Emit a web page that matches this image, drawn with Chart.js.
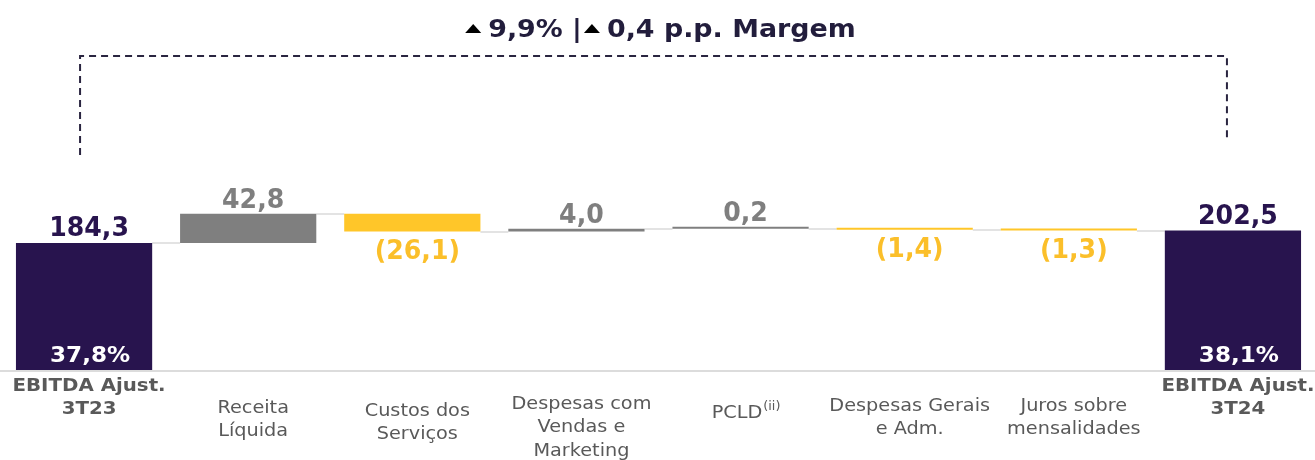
<!DOCTYPE html>
<html>
<head>
<meta charset="utf-8">
<script src="https://cdn.jsdelivr.net/npm/chart.js@4"></script>
<style>
  html, body { margin: 0; padding: 0; background: #fff; overflow: hidden; }
  canvas { display: block; }
</style>
</head>
<body>
<canvas id="chart" width="1315" height="460"></canvas>
<script>
// waterfall: first and last are totals, the rest are changes
const categories = [
  ['EBITDA Ajust.', '3T23'],
  ['Receita', 'Líquida'],
  ['Custos dos', 'Serviços'],
  ['Despesas com', 'Vendas e', 'Marketing'],
  ['PCLD'],
  ['Despesas Gerais', 'e Adm.'],
  ['Juros sobre', 'mensalidades'],
  ['EBITDA Ajust.', '3T24']
];
const categorySup = ['', '', '', '', '(ii)', '', '', ''];
const values = [184.3, 42.8, -26.1, 4.0, 0.2, -1.4, -1.3, 202.5];
const isTotal = [true, false, false, false, false, false, false, true];
const margins = [37.8, null, null, null, null, null, null, 38.1];
const growthPct = 9.9;
const marginPP = 0.4;

const DARK = '#28144e';
const GREY = '#7f7f7f';
const YELLOW = '#ffc629';
const YELLOW_TXT = '#fbbf2a';
const LABEL = '#595959';
const FONT = '"DejaVu Sans", Verdana, sans-serif';

const fmt = v => Math.abs(v).toFixed(1).replace('.', ',');

// floating bar ranges built from the values
let running = 0;
const ranges = values.map((v, i) => {
  if (isTotal[i]) { running = v; return [0, v]; }
  const r = [running, running + v];
  running += v;
  return r;
});
const barColors = values.map((v, i) => isTotal[i] ? DARK : (v >= 0 ? GREY : YELLOW));

// vertical middle of the first line of each category label
const labelY = [386, 408, 411, 404, 413, 406, 406, 386];
const TXT_SHIFT = 5; // labels sit a little right of the bar centre in the original

// the source font runs wider than DejaVu, so stretch text horizontally
function drawText(ctx, text, x, y, sx) {
  ctx.save();
  ctx.translate(x, y);
  ctx.scale(sx, 1);
  ctx.fillText(text, 0, 0);
  ctx.restore();
}

const waterfallExtras = {
  id: 'waterfallExtras',
  beforeDatasetsDraw(chart) {
    const { ctx, chartArea, scales: { y } } = chart;
    const bars = chart.getDatasetMeta(0).data;
    ctx.save();
    // baseline
    ctx.strokeStyle = '#dcdcdc';
    ctx.lineWidth = 2;
    ctx.beginPath();
    ctx.moveTo(0, y.getPixelForValue(0) + 1);
    ctx.lineTo(chart.width, y.getPixelForValue(0) + 1);
    ctx.stroke();
    // connectors
    ctx.strokeStyle = '#e3e3e3';
    for (let i = 0; i < bars.length - 1; i++) {
      const level = ranges[i][1];
      const py = Math.round(y.getPixelForValue(level));
      ctx.beginPath();
      ctx.moveTo(bars[i].x + bars[i].width / 2, py);
      ctx.lineTo(bars[i + 1].x - bars[i + 1].width / 2, py);
      ctx.stroke();
    }
    ctx.restore();
  },
  afterDatasetsDraw(chart) {
    const { ctx } = chart;
    const bars = chart.getDatasetMeta(0).data;
    ctx.save();
    ctx.textAlign = 'center';
    ctx.textBaseline = 'alphabetic';

    // value labels
    bars.forEach((bar, i) => {
      const v = values[i];
      const top = Math.min(bar.y, bar.base);
      const bottom = Math.max(bar.y, bar.base);
      const cx = bar.x + TXT_SHIFT;
      ctx.font = 'bold 26px ' + FONT;
      if (isTotal[i]) {
        ctx.fillStyle = DARK;
        drawText(ctx, fmt(v), cx, top - 7, 0.97);
      } else if (v >= 0) {
        ctx.fillStyle = GREY;
        drawText(ctx, fmt(v), cx, top - 6, 0.97);
      } else {
        ctx.fillStyle = YELLOW_TXT;
        drawText(ctx, '(' + fmt(v) + ')', cx, bottom + 27, 0.97);
      }
      if (margins[i] != null) {
        ctx.font = 'bold 21px ' + FONT;
        ctx.fillStyle = '#ffffff';
        drawText(ctx, fmt(margins[i]) + '%', bar.x + 6, bottom - 8, 1.1);
      }
    });

    // category labels
    bars.forEach((bar, i) => {
      const cx = bar.x + TXT_SHIFT;
      const sx = isTotal[i] ? 1.1 : 1.07;
      ctx.font = (isTotal[i] ? 'bold ' : '') + '18px ' + FONT;
      ctx.fillStyle = LABEL;
      ctx.textBaseline = 'middle';
      const lines = categories[i];
      if (categorySup[i]) {
        const w1 = ctx.measureText(lines[0]).width * sx;
        ctx.font = '12px ' + FONT;
        const w2 = ctx.measureText(categorySup[i]).width * sx;
        const x0 = cx - (w1 + w2) / 2;
        ctx.textAlign = 'left';
        drawText(ctx, categorySup[i], x0 + w1 + 1, labelY[i] - 6, sx);
        ctx.font = '18px ' + FONT;
        drawText(ctx, lines[0], x0, labelY[i], sx);
        ctx.textAlign = 'center';
      } else {
        lines.forEach((t, k) => drawText(ctx, t, cx, labelY[i] + k * 23.5, sx));
      }
    });

    // bracket
    const xl = bars[0].x - 4;
    const xr = bars[bars.length - 1].x - 6;
    ctx.strokeStyle = '#2a2540';
    ctx.lineWidth = 2;
    ctx.setLineDash([7, 5]);
    ctx.beginPath();
    ctx.moveTo(xl, 155);
    ctx.lineTo(xl, 56);
    ctx.lineTo(xr, 56);
    ctx.lineTo(xr, 138);
    ctx.stroke();
    ctx.setLineDash([]);

    // headline
    const tri = 16, gap = 7, hsx = 1.12;
    const part1 = fmt(growthPct) + '% |';
    const part2 = fmt(marginPP) + ' p.p. Margem';
    ctx.font = 'bold 24px ' + FONT;
    const w1 = ctx.measureText(part1).width * hsx;
    const w2 = ctx.measureText(part2).width * hsx;
    const total = tri + gap + w1 + 2 + tri + gap + w2;
    let x = (bars[0].x + bars[bars.length - 1].x) / 2 + 2 - total / 2;
    const base = 37;
    const drawTri = (tx) => {
      ctx.fillStyle = '#000';
      ctx.beginPath();
      ctx.moveTo(tx, base - 4);
      ctx.lineTo(tx + tri, base - 4);
      ctx.lineTo(tx + tri / 2, base - 13);
      ctx.closePath();
      ctx.fill();
    };
    ctx.textAlign = 'left';
    ctx.textBaseline = 'alphabetic';
    drawTri(x); x += tri + gap;
    ctx.fillStyle = '#221d3c';
    drawText(ctx, part1, x, base, hsx); x += w1 + 2;
    drawTri(x); x += tri + gap;
    ctx.fillStyle = '#221d3c';
    drawText(ctx, part2, x, base, hsx);
    ctx.restore();
  }
};

new Chart(document.getElementById('chart'), {
  type: 'bar',
  data: {
    labels: categories,
    datasets: [{
      data: ranges,
      backgroundColor: barColors,
      borderWidth: 0,
      barPercentage: 0.83,
      categoryPercentage: 1,
      minBarLength: 2
    }]
  },
  options: {
    responsive: false,
    animation: false,
    devicePixelRatio: 1,
    layout: { padding: { top: 191, bottom: 90, left: 2, right: -2 } },
    scales: {
      x: { display: false },
      y: { display: false, min: 0, max: 260 }
    },
    plugins: {
      legend: { display: false },
      tooltip: { enabled: false }
    }
  },
  plugins: [waterfallExtras]
});
</script>
</body>
</html>
